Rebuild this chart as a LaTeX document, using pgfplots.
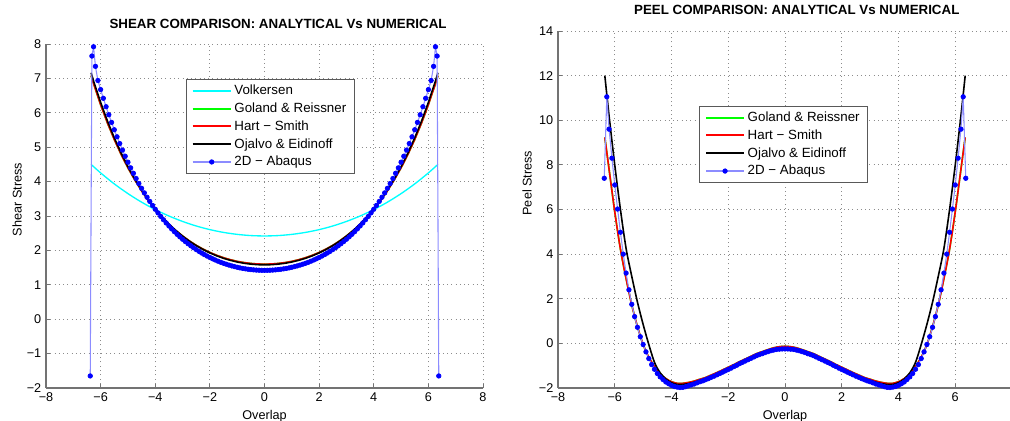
\documentclass[border=0pt]{standalone}
\usepackage{fontspec}
\setmainfont{Liberation Sans}
\usepackage{pgfplots}
\pgfplotsset{compat=1.18}
\definecolor{mcyan}{RGB}{0,255,255}
\definecolor{mgreen}{RGB}{0,255,0}
\definecolor{mred}{RGB}{255,0,0}
\definecolor{mblue}{RGB}{0,0,255}
\definecolor{mpale}{RGB}{140,140,255}

\pgfplotsset{
  mfig/.style={
    scale only axis,
    axis lines*=left,
    axis line style={draw=black!55, line width=0.9pt},
    tick align=inside,
    major tick length=3pt,
    tick style={draw=black!55, line width=0.6pt},
    xmin=-8, xmax=8,
    xtick={-8,-6,...,8},
    grid=major,
    major grid style={draw=black!45, line width=0.7pt, dash pattern=on 0.7pt off 2.5pt},
    tick label style={font=\fontsize{9.5}{11}\selectfont},
    label style={font=\fontsize{9.5}{11}\selectfont},
    title style={font=\bfseries\fontsize{10}{12}\selectfont, anchor=base},
    xlabel style={at={(axis description cs:0.5,0)}, anchor=base, yshift=-23.6pt},
    clip=false,
    legend cell align=left,
    legend style={draw=black!65, line width=0.8pt, fill=white, anchor=north west,
      font=\fontsize{10}{12}\selectfont, row sep=0.6pt, inner xsep=4pt, inner ysep=2pt},
    legend image code/.code={\draw[mark repeat=2,mark phase=2,#1,line width=1.5pt] plot coordinates {(0pt,0pt) (14.25pt,0pt) (28.5pt,0pt)};},
  },
  abq/.style={mpale, line width=0.8pt, mark=*, mark size=1.7pt, mark options={draw=mblue, fill=mblue, solid, line width=0.5pt}},
}

\begin{document}
\begin{tikzpicture}
\useasboundingbox (0,0) rectangle (757.5pt,315.75pt);

% ---- shear ----
\begin{axis}[mfig,
  at={(34.5pt,24.75pt)}, anchor=south west,
  width=327.75pt, height=258pt,
  ymin=-2, ymax=8,
  xticklabels={−8,−6,−4,−2,0,2,4,6,8},
  ytick={-2,-1,...,8},
  yticklabels={−2,−1,0,1,2,3,4,5,6,7,8},
  title={SHEAR COMPARISON: ANALYTICAL Vs NUMERICAL},
  title style={at={(0.531,1)}, yshift=5.5pt},
  xlabel={Overlap},
  ylabel={Shear Stress},
  ylabel style={at={(axis description cs:-0.0664,0.548)}, anchor=center},
  legend style={at={(0.32,0.898)}},
]
\addplot[mcyan, line width=1pt, smooth] coordinates {
  (-6.35,4.501) (-6,4.253) (-5.5,3.933) (-5,3.651) (-4.5,3.402) (-4,3.186) (-3.5,3.000)
  (-3,2.842) (-2.5,2.710) (-2,2.604) (-1.5,2.523) (-1,2.466) (-0.5,2.431) (0,2.420)
  (0.5,2.431) (1,2.466) (1.5,2.523) (2,2.604) (2.5,2.710) (3,2.842) (3.5,3.000)
  (4,3.186) (4.5,3.402) (5,3.651) (5.5,3.933) (6,4.253) (6.35,4.501)
};
\addplot[mgreen, line width=1.2pt] coordinates {
  (-6.35,7.082) (-6.25,6.827) (-6.0,6.237) (-5.75,5.705) (-5.5,5.225) (-5.25,4.792) (-5.0,4.402)
  (-4.75,4.050) (-4.5,3.734) (-4.25,3.450) (-4.0,3.196) (-3.75,2.967) (-3.5,2.763) (-3.25,2.580)
  (-3.0,2.418) (-2.75,2.274) (-2.5,2.147) (-2.25,2.036) (-2.0,1.939) (-1.75,1.857) (-1.5,1.786)
  (-1.25,1.728) (-1.0,1.681) (-0.75,1.645) (-0.5,1.620) (-0.25,1.605) (0,1.600)
  (0.25,1.605) (0.5,1.620) (0.75,1.645) (1.0,1.681) (1.25,1.728) (1.5,1.786) (1.75,1.857)
  (2.0,1.939) (2.25,2.036) (2.5,2.147) (2.75,2.274) (3.0,2.418) (3.25,2.580) (3.5,2.763)
  (3.75,2.967) (4.0,3.196) (4.25,3.450) (4.5,3.734) (4.75,4.050) (5.0,4.402) (5.25,4.792)
  (5.5,5.225) (5.75,5.705) (6.0,6.237) (6.25,6.827) (6.35,7.082)
};
\addplot[mred, line width=1.2pt] coordinates {
  (-6.35,7.082) (-6.25,6.827) (-6.0,6.237) (-5.75,5.705) (-5.5,5.225) (-5.25,4.792) (-5.0,4.402)
  (-4.75,4.050) (-4.5,3.734) (-4.25,3.450) (-4.0,3.196) (-3.75,2.967) (-3.5,2.763) (-3.25,2.580)
  (-3.0,2.418) (-2.75,2.274) (-2.5,2.147) (-2.25,2.036) (-2.0,1.939) (-1.75,1.857) (-1.5,1.786)
  (-1.25,1.728) (-1.0,1.681) (-0.75,1.645) (-0.5,1.620) (-0.25,1.605) (0,1.600)
  (0.25,1.605) (0.5,1.620) (0.75,1.645) (1.0,1.681) (1.25,1.728) (1.5,1.786) (1.75,1.857)
  (2.0,1.939) (2.25,2.036) (2.5,2.147) (2.75,2.274) (3.0,2.418) (3.25,2.580) (3.5,2.763)
  (3.75,2.967) (4.0,3.196) (4.25,3.450) (4.5,3.734) (4.75,4.050) (5.0,4.402) (5.25,4.792)
  (5.5,5.225) (5.75,5.705) (6.0,6.237) (6.25,6.827) (6.35,7.082)
};
\addplot[black, line width=1.2pt] coordinates {
  (-6.35,7.163) (-6.25,6.904) (-6.0,6.303) (-5.75,5.761) (-5.5,5.272) (-5.25,4.831) (-5.0,4.434)
  (-4.75,4.076) (-4.5,3.754) (-4.25,3.465) (-4.0,3.206) (-3.75,2.973) (-3.5,2.765) (-3.25,2.579)
  (-3.0,2.414) (-2.75,2.267) (-2.5,2.138) (-2.25,2.025) (-2.0,1.926) (-1.75,1.842) (-1.5,1.770)
  (-1.25,1.711) (-1.0,1.663) (-0.75,1.626) (-0.5,1.601) (-0.25,1.585) (0,1.580)
  (0.25,1.585) (0.5,1.601) (0.75,1.626) (1.0,1.663) (1.25,1.711) (1.5,1.770) (1.75,1.842)
  (2.0,1.926) (2.25,2.025) (2.5,2.138) (2.75,2.267) (3.0,2.414) (3.25,2.579) (3.5,2.765)
  (3.75,2.973) (4.0,3.206) (4.25,3.465) (4.5,3.754) (4.75,4.076) (5.0,4.434) (5.25,4.831)
  (5.5,5.272) (5.75,5.761) (6.0,6.303) (6.25,6.904) (6.35,7.163)
};
\addplot[abq] coordinates {
  (-6.38,-1.65) (-6.32,7.65) (-6.26,7.92) (-6.19,7.35)
  (-6.1,6.939) (-6.0,6.675) (-5.9,6.421) (-5.8,6.177) (-5.7,5.944) (-5.6,5.721) (-5.5,5.507)
  (-5.4,5.302) (-5.3,5.105) (-5.2,4.917) (-5.1,4.737) (-5.0,4.564) (-4.9,4.399) (-4.8,4.241)
  (-4.7,4.089) (-4.6,3.944) (-4.5,3.805) (-4.4,3.672) (-4.3,3.545) (-4.2,3.424) (-4.1,3.307)
  (-4.0,3.196) (-3.9,3.090) (-3.8,2.988) (-3.7,2.891) (-3.6,2.798) (-3.5,2.710) (-3.4,2.625)
  (-3.3,2.544) (-3.2,2.468) (-3.1,2.394) (-3.0,2.325) (-2.9,2.258) (-2.8,2.195) (-2.7,2.135)
  (-2.6,2.078) (-2.5,2.024) (-2.4,1.973) (-2.3,1.924) (-2.2,1.878) (-2.1,1.835) (-2.0,1.794)
  (-1.9,1.756) (-1.8,1.720) (-1.7,1.686) (-1.6,1.654) (-1.5,1.625) (-1.4,1.599) (-1.3,1.573)
  (-1.2,1.550) (-1.1,1.529) (-1.0,1.510) (-0.9,1.492) (-0.8,1.477) (-0.7,1.464) (-0.6,1.452)
  (-0.5,1.442) (-0.4,1.434) (-0.3,1.428) (-0.2,1.424) (-0.1,1.421) (0,1.420)
  (0.1,1.421) (0.2,1.424) (0.3,1.428) (0.4,1.434) (0.5,1.442) (0.6,1.452) (0.7,1.464)
  (0.8,1.477) (0.9,1.492) (1.0,1.510) (1.1,1.529) (1.2,1.550) (1.3,1.573) (1.4,1.599)
  (1.5,1.625) (1.6,1.654) (1.7,1.686) (1.8,1.720) (1.9,1.756) (2.0,1.794) (2.1,1.835)
  (2.2,1.878) (2.3,1.924) (2.4,1.973) (2.5,2.024) (2.6,2.078) (2.7,2.135) (2.8,2.195)
  (2.9,2.258) (3.0,2.325) (3.1,2.394) (3.2,2.468) (3.3,2.544) (3.4,2.625) (3.5,2.710)
  (3.6,2.798) (3.7,2.891) (3.8,2.988) (3.9,3.090) (4.0,3.196) (4.1,3.307) (4.2,3.424)
  (4.3,3.545) (4.4,3.672) (4.5,3.805) (4.6,3.944) (4.7,4.089) (4.8,4.241) (4.9,4.399)
  (5.0,4.564) (5.1,4.737) (5.2,4.917) (5.3,5.105) (5.4,5.302) (5.5,5.507) (5.6,5.721)
  (5.7,5.944) (5.8,6.177) (5.9,6.421) (6.0,6.675) (6.1,6.939)
  (6.19,7.35) (6.26,7.92) (6.32,7.65) (6.38,-1.65)
};
\legend{Volkersen, Goland \& Reissner, Hart − Smith, Ojalvo \& Eidinoff, 2D − Abaqus}
\end{axis}

% ---- peel ----
\begin{axis}[mfig,
  at={(418.5pt,24.75pt)}, anchor=south west,
  width=340.5pt, height=267.75pt,
  ymin=-2, ymax=14,
  xticklabels={−8,−6,−4,−2,0,2,4,6,{}},
  ytick={-2,0,...,14},
  yticklabels={−2,0,2,4,6,8,10,12,14},
  title={PEEL COMPARISON: ANALYTICAL Vs NUMERICAL},
  title style={at={(0.526,1)}, yshift=6.2pt},
  xlabel={Overlap},
  ylabel={Peel Stress},
  ylabel style={at={(axis description cs:-0.068,0.574)}, anchor=center},
  legend style={at={(0.311,0.790)}},
]
\addplot[mgreen, line width=1.2pt, smooth] coordinates {
  (-6.35,9.23) (-6.2,7.80) (-6.0,5.90) (-5.8,4.22) (-5.6,2.90) (-5.4,1.72) (-5.2,0.75)
  (-5.0,-0.05) (-4.8,-0.62) (-4.6,-1.03) (-4.4,-1.36) (-4.2,-1.58) (-4.0,-1.72) (-3.8,-1.79)
  (-3.6,-1.79) (-3.4,-1.75) (-3.2,-1.69) (-3.0,-1.61) (-2.8,-1.53) (-2.6,-1.42) (-2.4,-1.31)
  (-2.2,-1.19) (-2.0,-1.07) (-1.8,-0.95) (-1.6,-0.82) (-1.4,-0.70) (-1.2,-0.58) (-1.0,-0.46)
  (-0.8,-0.37) (-0.6,-0.28) (-0.4,-0.20) (-0.2,-0.15) (0,-0.13)
  (0.2,-0.15) (0.4,-0.20) (0.6,-0.28) (0.8,-0.37) (1.0,-0.46) (1.2,-0.58) (1.4,-0.70)
  (1.6,-0.82) (1.8,-0.95) (2.0,-1.07) (2.2,-1.19) (2.4,-1.31) (2.6,-1.42) (2.8,-1.53)
  (3.0,-1.61) (3.2,-1.69) (3.4,-1.75) (3.6,-1.79) (3.8,-1.79) (4.0,-1.72) (4.2,-1.58)
  (4.4,-1.36) (4.6,-1.03) (4.8,-0.62) (5.0,-0.05) (5.2,0.75) (5.4,1.72) (5.6,2.90)
  (5.8,4.22) (6.0,5.90) (6.2,7.80) (6.35,9.23)
};
\addplot[mred, line width=1.2pt, smooth] coordinates {
  (-6.35,9.23) (-6.2,7.80) (-6.0,5.90) (-5.8,4.22) (-5.6,2.90) (-5.4,1.72) (-5.2,0.75)
  (-5.0,-0.05) (-4.8,-0.62) (-4.6,-1.03) (-4.4,-1.36) (-4.2,-1.58) (-4.0,-1.72) (-3.8,-1.79)
  (-3.6,-1.79) (-3.4,-1.75) (-3.2,-1.69) (-3.0,-1.61) (-2.8,-1.53) (-2.6,-1.42) (-2.4,-1.31)
  (-2.2,-1.19) (-2.0,-1.07) (-1.8,-0.95) (-1.6,-0.82) (-1.4,-0.70) (-1.2,-0.58) (-1.0,-0.46)
  (-0.8,-0.37) (-0.6,-0.28) (-0.4,-0.20) (-0.2,-0.15) (0,-0.13)
  (0.2,-0.15) (0.4,-0.20) (0.6,-0.28) (0.8,-0.37) (1.0,-0.46) (1.2,-0.58) (1.4,-0.70)
  (1.6,-0.82) (1.8,-0.95) (2.0,-1.07) (2.2,-1.19) (2.4,-1.31) (2.6,-1.42) (2.8,-1.53)
  (3.0,-1.61) (3.2,-1.69) (3.4,-1.75) (3.6,-1.79) (3.8,-1.79) (4.0,-1.72) (4.2,-1.58)
  (4.4,-1.36) (4.6,-1.03) (4.8,-0.62) (5.0,-0.05) (5.2,0.75) (5.4,1.72) (5.6,2.90)
  (5.8,4.22) (6.0,5.90) (6.2,7.80) (6.35,9.23)
};
\addplot[black, line width=1.2pt, smooth] coordinates {
  (-6.35,12.00) (-6.2,10.20) (-6.0,8.00) (-5.8,6.00) (-5.6,4.25) (-5.4,3.00) (-5.2,1.85)
  (-5.0,0.85) (-4.8,-0.05) (-4.6,-0.85) (-4.4,-1.32) (-4.2,-1.60) (-4.0,-1.76) (-3.8,-1.84)
  (-3.6,-1.84) (-3.4,-1.80) (-3.2,-1.74) (-3.0,-1.66) (-2.8,-1.58) (-2.6,-1.48) (-2.4,-1.37)
  (-2.2,-1.25) (-2.0,-1.13) (-1.8,-1.01) (-1.6,-0.88) (-1.4,-0.76) (-1.2,-0.64) (-1.0,-0.52)
  (-0.8,-0.43) (-0.6,-0.34) (-0.4,-0.27) (-0.2,-0.22) (0,-0.20)
  (0.2,-0.22) (0.4,-0.27) (0.6,-0.34) (0.8,-0.43) (1.0,-0.52) (1.2,-0.64) (1.4,-0.76)
  (1.6,-0.88) (1.8,-1.01) (2.0,-1.13) (2.2,-1.25) (2.4,-1.37) (2.6,-1.48) (2.8,-1.58)
  (3.0,-1.66) (3.2,-1.74) (3.4,-1.80) (3.6,-1.84) (3.8,-1.84) (4.0,-1.76) (4.2,-1.60)
  (4.4,-1.32) (4.6,-0.85) (4.8,-0.05) (5.0,0.85) (5.2,1.85) (5.4,3.00) (5.6,4.25)
  (5.8,6.00) (6.0,8.00) (6.2,10.20) (6.35,12.00)
};
\addplot[abq] coordinates {
  (-6.37,7.40) (-6.28,11.05) (-6.2,9.60) (-6.1,8.30) (-6.0,7.10) (-5.9,6.02) (-5.8,4.98)
  (-5.7,4.00) (-5.6,3.15) (-5.5,2.40) (-5.4,1.75) (-5.3,1.20) (-5.2,0.72) (-5.1,0.30)
  (-5.0,-0.05) (-4.9,-0.38) (-4.8,-0.68) (-4.7,-0.95) (-4.6,-1.16) (-4.5,-1.35) (-4.4,-1.50)
  (-4.3,-1.62) (-4.2,-1.73) (-4.1,-1.81) (-4.0,-1.88) (-3.9,-1.93) (-3.8,-1.96) (-3.7,-1.98)
  (-3.6,-1.97) (-3.5,-1.94) (-3.4,-1.90) (-3.3,-1.86) (-3.2,-1.82) (-3.1,-1.77) (-3.0,-1.72)
  (-2.9,-1.68) (-2.8,-1.63) (-2.7,-1.58) (-2.6,-1.52) (-2.5,-1.47) (-2.4,-1.41) (-2.3,-1.35)
  (-2.2,-1.29) (-2.1,-1.23) (-2.0,-1.17) (-1.9,-1.11) (-1.8,-1.04) (-1.7,-0.98) (-1.6,-0.91)
  (-1.5,-0.85) (-1.4,-0.79) (-1.3,-0.73) (-1.2,-0.67) (-1.1,-0.61) (-1.0,-0.55) (-0.9,-0.50)
  (-0.8,-0.46) (-0.7,-0.41) (-0.6,-0.37) (-0.5,-0.33) (-0.4,-0.30) (-0.3,-0.27) (-0.2,-0.26)
  (-0.1,-0.25) (0,-0.25)
  (0.1,-0.25) (0.2,-0.26) (0.3,-0.27) (0.4,-0.30) (0.5,-0.33) (0.6,-0.37) (0.7,-0.41)
  (0.8,-0.46) (0.9,-0.50) (1.0,-0.55) (1.1,-0.61) (1.2,-0.67) (1.3,-0.73) (1.4,-0.79)
  (1.5,-0.85) (1.6,-0.91) (1.7,-0.98) (1.8,-1.04) (1.9,-1.11) (2.0,-1.17) (2.1,-1.23)
  (2.2,-1.29) (2.3,-1.35) (2.4,-1.41) (2.5,-1.47) (2.6,-1.52) (2.7,-1.58) (2.8,-1.63)
  (2.9,-1.68) (3.0,-1.72) (3.1,-1.77) (3.2,-1.82) (3.3,-1.86) (3.4,-1.90) (3.5,-1.94)
  (3.6,-1.97) (3.7,-1.98) (3.8,-1.96) (3.9,-1.93) (4.0,-1.88) (4.1,-1.81) (4.2,-1.73)
  (4.3,-1.62) (4.4,-1.50) (4.5,-1.35) (4.6,-1.16) (4.7,-0.95) (4.8,-0.68) (4.9,-0.38)
  (5.0,-0.05) (5.1,0.30) (5.2,0.72) (5.3,1.20) (5.4,1.75) (5.5,2.40) (5.6,3.15)
  (5.7,4.00) (5.8,4.98) (5.9,6.02) (6.0,7.10) (6.1,8.30) (6.2,9.60) (6.28,11.05) (6.37,7.40)
};
\legend{Goland \& Reissner, Hart − Smith, Ojalvo \& Eidinoff, 2D − Abaqus}
\end{axis}
\end{tikzpicture}
\end{document}
